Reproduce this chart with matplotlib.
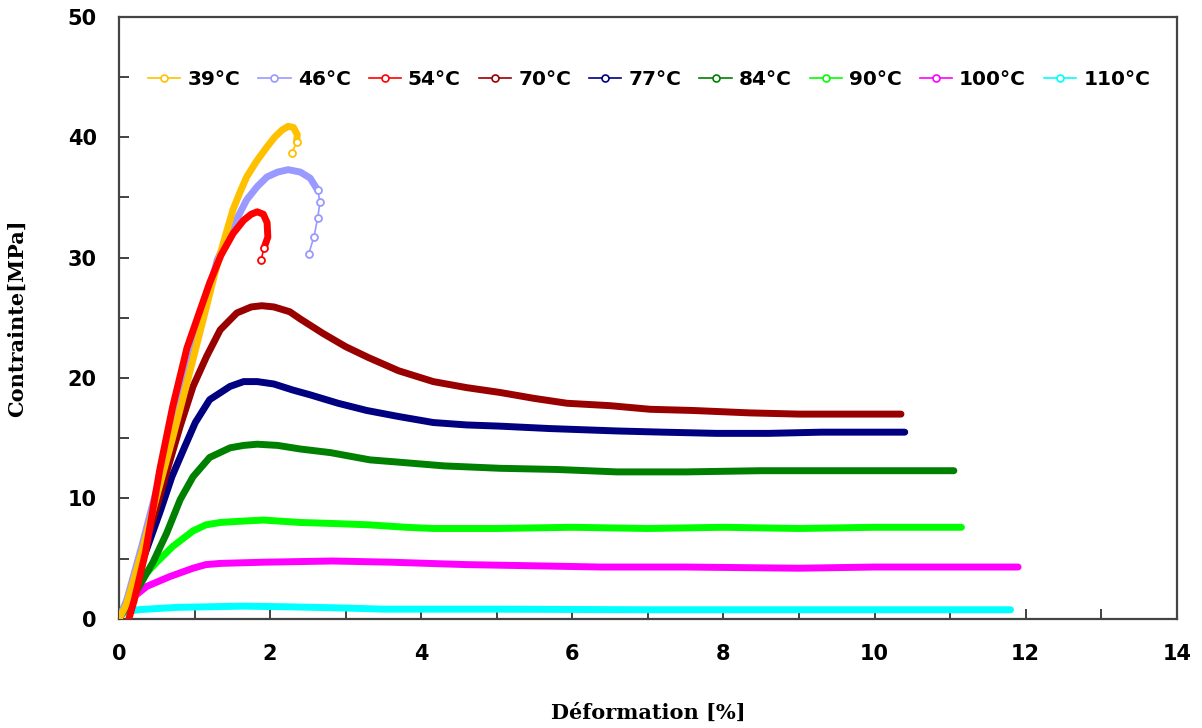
import matplotlib
matplotlib.use("Agg")
import matplotlib.pyplot as plt
from matplotlib.lines import Line2D
from matplotlib.ticker import MultipleLocator

# values (deformation %, stress MPa)
x_39 = [0, 0.1, 0.3, 0.5, 0.7, 0.9, 1.1, 1.27, 1.38, 1.51, 1.60, 1.69, 1.82, 1.96, 2.06, 2.16, 2.24, 2.31, 2.36, 2.35]
y_39 = [0, 1.2, 5.5, 10.2, 14.8, 19.6, 24.5, 28.7, 31.2, 34.0, 35.4, 36.7, 38.0, 39.2, 40.0, 40.6, 40.9, 40.8, 40.2, 39.6]
x_39_tail = [2.35, 2.29]
y_39_tail = [39.6, 38.7]

x_46 = [0, 0.1, 0.3, 0.5, 0.7, 0.9, 1.1, 1.30, 1.51, 1.69, 1.83, 1.96, 2.10, 2.24, 2.40, 2.53, 2.63]
y_46 = [0, 1.5, 6.0, 10.8, 15.6, 20.3, 25.0, 29.8, 32.6, 34.8, 35.9, 36.7, 37.1, 37.3, 37.1, 36.6, 35.6]
x_46_tail = [2.63, 2.66, 2.63, 2.58, 2.51]
y_46_tail = [35.6, 34.6, 33.3, 31.7, 30.3]

x_54 = [0.13, 0.2, 0.35, 0.54, 0.71, 0.9, 1.05, 1.20, 1.35, 1.51, 1.65, 1.75, 1.83, 1.91, 1.96, 1.97, 1.92]
y_54 = [0, 1.5, 5.5, 12.4, 17.6, 22.5, 25.2, 27.9, 30.2, 32.0, 33.1, 33.6, 33.8, 33.6, 32.9, 31.7, 30.8]
x_54_tail = [1.92, 1.88]
y_54_tail = [30.8, 29.8]

x_70 = [0, 0.1, 0.3, 0.5, 0.65, 0.81, 0.98, 1.16, 1.34, 1.56, 1.75, 1.89, 2.05, 2.26, 2.40, 2.70, 3.0,
        3.30, 3.7, 4.16, 4.6, 5.04, 5.5, 5.93, 6.5, 7.03, 7.6, 8.35, 9.0, 9.6, 10.35]
y_70 = [0, 1.2, 5.2, 9.3, 12.6, 16.0, 19.3, 21.8, 24.0, 25.4, 25.9, 26.0, 25.9, 25.5, 24.9, 23.7, 22.6,
        21.7, 20.6, 19.7, 19.2, 18.8, 18.3, 17.9, 17.7, 17.4, 17.3, 17.1, 17.0, 17.0, 17.0]

x_77 = [0, 0.15, 0.35, 0.55, 0.70, 0.85, 1.01, 1.20, 1.47, 1.65, 1.83, 2.05, 2.30, 2.53, 2.90, 3.28,
        3.7, 4.16, 4.6, 5.04, 5.7, 6.59, 7.2, 7.91, 8.6, 9.3, 10.0, 10.4]
y_77 = [0, 2.0, 5.5, 9.0, 11.8, 14.0, 16.3, 18.2, 19.3, 19.7, 19.7, 19.5, 19.0, 18.6, 17.9, 17.3,
        16.8, 16.3, 16.1, 16.0, 15.8, 15.6, 15.5, 15.4, 15.4, 15.5, 15.5, 15.5]

x_84 = [0, 0.1, 0.24, 0.45, 0.63, 0.81, 0.98, 1.20, 1.47, 1.65, 1.83, 2.10, 2.40, 2.80, 3.32, 3.72,
        4.3, 5.04, 5.8, 6.59, 7.5, 8.5, 9.5, 10.5, 11.05]
y_84 = [0, 1.0, 2.4, 4.7, 7.1, 9.9, 11.8, 13.4, 14.2, 14.4, 14.5, 14.4, 14.1, 13.8, 13.2, 13.0,
        12.7, 12.5, 12.4, 12.2, 12.2, 12.3, 12.3, 12.3, 12.3]

x_90 = [0, 0.15, 0.32, 0.50, 0.71, 0.98, 1.15, 1.34, 1.6, 1.91, 2.40, 2.9, 3.32, 3.8, 4.16, 5.0,
        6.0, 7.0, 8.0, 9.0, 10.0, 11.15]
y_90 = [0, 2.2, 3.5, 4.7, 6.0, 7.3, 7.8, 8.0, 8.1, 8.2, 8.0, 7.9, 7.8, 7.6, 7.5, 7.5,
        7.6, 7.5, 7.6, 7.5, 7.6, 7.6]

x_100 = [0, 0.1, 0.19, 0.37, 0.67, 0.98, 1.15, 1.34, 1.91, 2.83, 3.6, 4.6, 5.5, 6.37, 7.5, 9.0,
         10.0, 11.0, 11.9]
y_100 = [0.3, 1.0, 1.8, 2.7, 3.5, 4.2, 4.5, 4.6, 4.7, 4.8, 4.7, 4.5, 4.4, 4.3, 4.3, 4.2,
         4.3, 4.3, 4.3]

x_110 = [0, 0.05, 0.24, 0.5, 0.77, 1.2, 1.64, 2.2, 2.96, 3.5, 5.0, 7.0, 9.0, 10.5, 11.8]
y_110 = [0.3, 0.5, 0.75, 0.85, 0.95, 1.0, 1.05, 1.0, 0.9, 0.8, 0.8, 0.75, 0.75, 0.75, 0.75]

labels = ["39°C", "46°C", "54°C", "70°C", "77°C", "84°C", "90°C", "100°C", "110°C"]
colors = ["#FFC000", "#9999FF", "#FF0000", "#990000", "#000080",
          "#008000", "#00FF00", "#FF00FF", "#00FFFF"]

curves = [(x_39, y_39), (x_46, y_46), (x_54, y_54), (x_70, y_70), (x_77, y_77),
          (x_84, y_84), (x_90, y_90), (x_100, y_100), (x_110, y_110)]
tails = {0: (x_39_tail, y_39_tail), 1: (x_46_tail, y_46_tail), 2: (x_54_tail, y_54_tail)}

fig = plt.figure(figsize=(12.02, 7.28), dpi=100)
ax = fig.add_axes([0.099, 0.150, 0.880, 0.827])

# densely sampled data in the original -> drawn as a solid band
draw_order = [8, 7, 6, 5, 4, 3, 1, 0, 2]
for i in draw_order:
    x, y = curves[i]
    ax.plot(x, y, color=colors[i], lw=5, solid_capstyle="round", solid_joinstyle="round", zorder=3)
    if i in tails:
        tx, ty = tails[i]
        ax.plot(tx, ty, color=colors[i], lw=1.2, marker="o", ms=5, mfc="white",
                mec=colors[i], mew=1.3, zorder=3)

ax.set_xlim(0, 14)
ax.set_ylim(0, 50)
ax.xaxis.set_major_locator(MultipleLocator(2))
ax.xaxis.set_minor_locator(MultipleLocator(1))
ax.yaxis.set_major_locator(MultipleLocator(10))
ax.yaxis.set_minor_locator(MultipleLocator(5))
ax.tick_params(which="both", direction="in", length=7, width=1.3, color="#333333",
               top=False, right=False)
ax.tick_params(axis="x", which="major", labelsize=15, pad=18)
ax.tick_params(axis="y", which="major", labelsize=15, pad=16)
for lab in ax.get_xticklabels() + ax.get_yticklabels():
    lab.set_fontweight("bold")
for sp in ax.spines.values():
    sp.set_color("#444444")
    sp.set_linewidth(1.6)

ax.set_xlabel("Déformation [%]", family="DejaVu Serif", fontweight="bold", fontsize=15, labelpad=28)
ax.set_ylabel("Contrainte[MPa]", family="DejaVu Serif", fontweight="bold", fontsize=15, labelpad=29)

handles = [Line2D([], [], color=c, lw=1.2, marker="o", ms=5, mfc="white", mec=c, mew=1.2)
           for c in colors]
ax.legend(handles, labels, ncol=9, loc="upper left", bbox_to_anchor=(0.02, 0.925),
          frameon=False, prop={"weight": "bold", "size": 14.5}, handlelength=1.6,
          handletextpad=0.35, columnspacing=0.9, borderaxespad=0)

fig.savefig("out.png", dpi=100)
